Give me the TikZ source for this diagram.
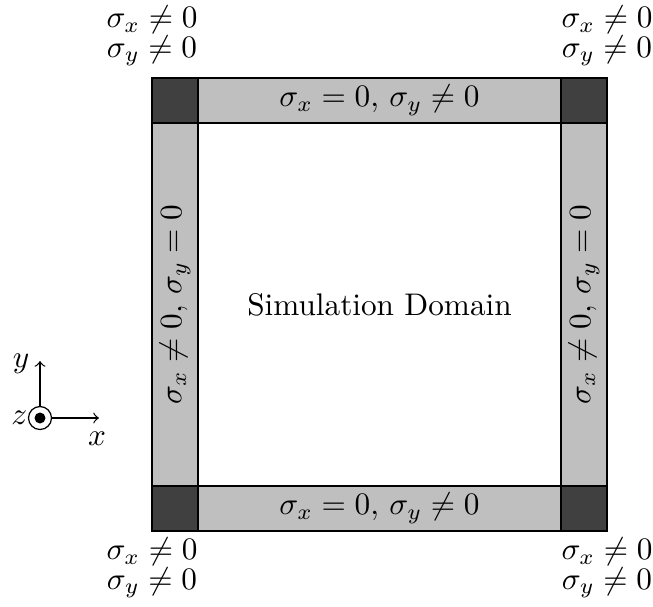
\documentclass[tikz,border=0pt]{standalone}
\usepackage{amsmath}
\begin{document}
\begin{tikzpicture}[x=0.32pt,y=-0.32pt,
  pml/.style={fill=black!25,draw=black,line width=0.4pt},
  cornerbox/.style={fill=black!75,draw=black,line width=0.4pt},
  lbl/.style={inner sep=0pt,align=center},
  ax/.style={->,line width=0.4pt}]
\useasboundingbox (0,0) rectangle (653,606);
% strips
\filldraw[pml] (198,78) rectangle (561,123);
\filldraw[pml] (198,486) rectangle (561,531);
\filldraw[pml] (152,123) rectangle (198,486);
\filldraw[pml] (561,123) rectangle (607,486);
% corners
\filldraw[cornerbox] (152,78) rectangle (198,123);
\filldraw[cornerbox] (561,78) rectangle (607,123);
\filldraw[cornerbox] (152,486) rectangle (198,531);
\filldraw[cornerbox] (561,486) rectangle (607,531);
% domain
\node[draw,line width=0.4pt,minimum width=363*0.32pt,minimum height=363*0.32pt,inner sep=0pt] (dom) at (379.5,304.5) {Simulation Domain};
% strip labels
\node[lbl] (top) at (379.5,100.5) {$\sigma_x = 0,\, \sigma_y \neq 0$};
\node[lbl] (bot) at (379.5,508.5) {$\sigma_x = 0,\, \sigma_y \neq 0$};
\node[lbl,rotate=90] (left) at (175,304.5) {$\sigma_x \neq 0,\, \sigma_y = 0$};
\node[lbl,rotate=90] (right) at (584,304.5) {$\sigma_x \neq 0,\, \sigma_y = 0$};
% corner labels
\node[lbl] (tl) at (152,36) {$\sigma_x \neq 0$\\[-2.6pt]$\sigma_y \neq 0$};
\node[lbl] (tr) at (607,36) {$\sigma_x \neq 0$\\[-2.6pt]$\sigma_y \neq 0$};
\node[lbl] (bl) at (152,568) {$\sigma_x \neq 0$\\[-2.6pt]$\sigma_y \neq 0$};
\node[lbl] (br) at (607,568) {$\sigma_x \neq 0$\\[-2.6pt]$\sigma_y \neq 0$};
% axes
\node[circle,draw,line width=0.4pt,minimum size=23*0.32pt,inner sep=0pt] (o) at (40,418) {};
\fill (o.center) circle[radius=5.5*0.32pt];
\coordinate (ytip) at (40,361);
\coordinate (xtip) at (99,418);
\draw[ax] (o.north) -- (ytip);
\draw[ax] (o.east) -- (xtip);
\node[anchor=east,inner sep=1pt] (ylab) at (33,364) {$y$};
\node[anchor=north,inner sep=1pt] (xlab) at (97,428) {$x$};
\node[anchor=east,inner sep=0pt] (zlab) at (o.west) {$z$};
\end{tikzpicture}
\end{document}
